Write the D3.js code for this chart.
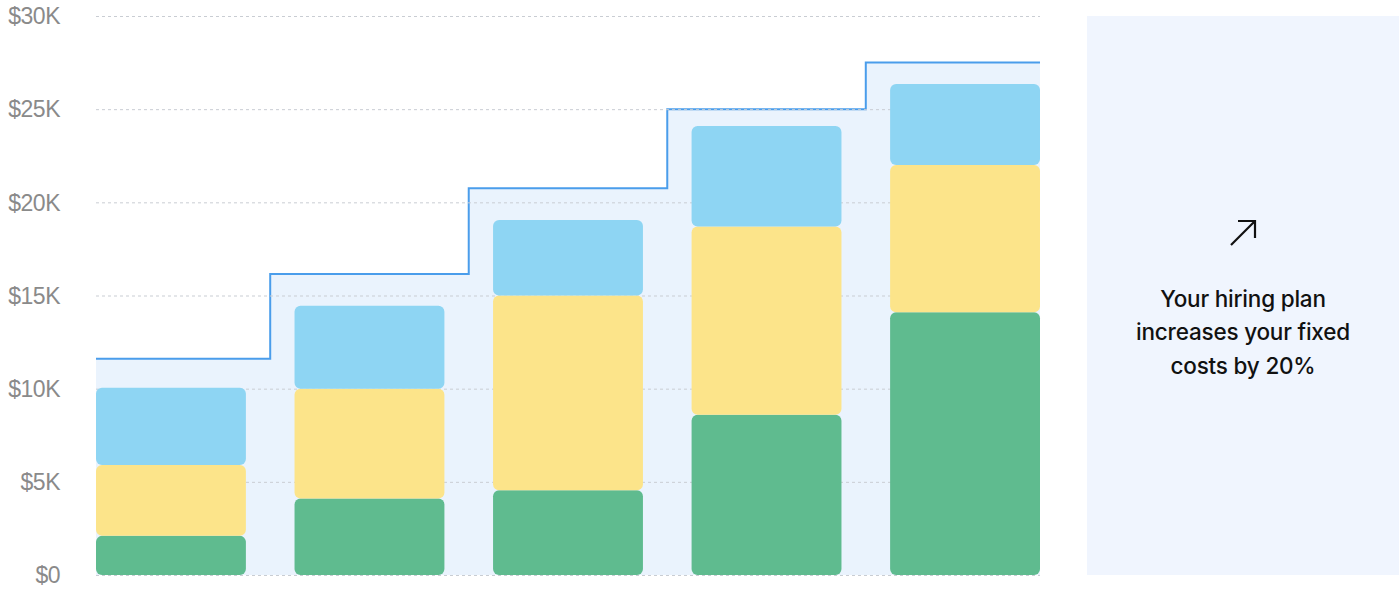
<!DOCTYPE html>
<html><head><meta charset="utf-8">
<script src="https://cdn.jsdelivr.net/npm/d3@7"></script>
<style>body{margin:0;background:#fff;}svg{display:block;font-family:Inter,"Noto Sans",sans-serif;}</style>
</head><body>
<svg id="c" width="1399" height="591"></svg>
<script>
const periods = ["P1","P2","P3","P4","P5"];
const greenVals = [2.1, 4.1, 4.55, 8.6, 14.1];
const yellowVals = [3.8, 5.9, 10.45, 10.1, 7.9];
const blueVals = [4.15, 4.45, 4.05, 5.4, 4.35];
const capacity = [11.6, 16.15, 20.75, 25.0, 27.5];
const yTicks = [0, 5, 10, 15, 20, 25, 30];
const tickLabels = ["$0","$5K","$10K","$15K","$20K","$25K","$30K"];
const message = ["Your hiring plan","increases your fixed","costs by 20%"];

const svg = d3.select("#c");
const x0 = 96, x1 = 1040, yTop = 16, yBot = 575;
const y = d3.scaleLinear().domain([0,30]).range([yBot,yTop]);
const x = d3.scaleBand().domain(periods).range([x0,x1]).paddingInner(0.245).paddingOuter(0);

// step area
const step = x.step();
const pts = [];
periods.forEach((p,i)=>{
  const left = i===0 ? x0 : x(p) - (step - x.bandwidth())/2;
  const right = i===periods.length-1 ? x1 : x(p) + x.bandwidth() + (step - x.bandwidth())/2;
  pts.push([left, capacity[i]],[right, capacity[i]]);
});
const area = d3.area().x(d=>d[0]).y0(yBot).y1(d=>y(d[1]));
svg.append("path").attr("d", area(pts)).attr("fill","#EAF3FD");
const line = d3.line().x(d=>d[0]).y(d=>y(d[1]));
svg.append("path").attr("d", line(pts)).attr("fill","none").attr("stroke","#4A9DEB").attr("stroke-width",2);

// grid
const yAxis = d3.axisLeft(y).tickValues(yTicks).tickSize(-(x1-x0)).tickFormat((d,i)=>tickLabels[i]);
const g = svg.append("g").attr("transform",`translate(${x0},0)`).call(yAxis);
g.select(".domain").remove();
g.selectAll(".tick line").attr("stroke","#C9CDD3").attr("stroke-dasharray","3,3").attr("stroke-width",1);
g.selectAll(".tick text").attr("x",-36).attr("fill","#8A8A8A").attr("font-size",23).attr("letter-spacing","-0.5").attr("dy","0.34em");

// bars
const stack = d3.stack().keys(["g","yl","b"])(periods.map((p,i)=>({p, g:greenVals[i], yl:yellowVals[i], b:blueVals[i]})));
const colors = {g:"#5FBB8F", yl:"#FCE48A", b:"#8ED5F3"};
stack.forEach(layer=>{
  svg.append("g").selectAll("rect").data(layer).join("rect")
    .attr("x", d=>x(d.data.p)).attr("width", x.bandwidth())
    .attr("y", d=>y(d[1])).attr("height", d=>y(d[0])-y(d[1]))
    .attr("rx",6).attr("fill", colors[layer.key]);
});

// right panel
svg.append("rect").attr("x",1087).attr("y",16).attr("width",312).attr("height",559).attr("fill","#F0F5FE");
const ax = 1243, ay = 233;
svg.append("path").attr("d",`M${ax-12},${ay+12}L${ax+12},${ay-12}M${ax-5},${ay-12}L${ax+12},${ay-12}L${ax+12},${ay+5}`)
  .attr("fill","none").attr("stroke","#111").attr("stroke-width",2.2);
svg.append("g").selectAll("text").data(message).join("text")
  .attr("x",ax).attr("y",(d,i)=>299+i*33.5).attr("dy","0.35em").attr("text-anchor","middle")
  .attr("font-size",22.5).attr("fill","#111").attr("font-weight",500).attr("letter-spacing","-0.2").text(d=>d);
</script>
</body></html>
